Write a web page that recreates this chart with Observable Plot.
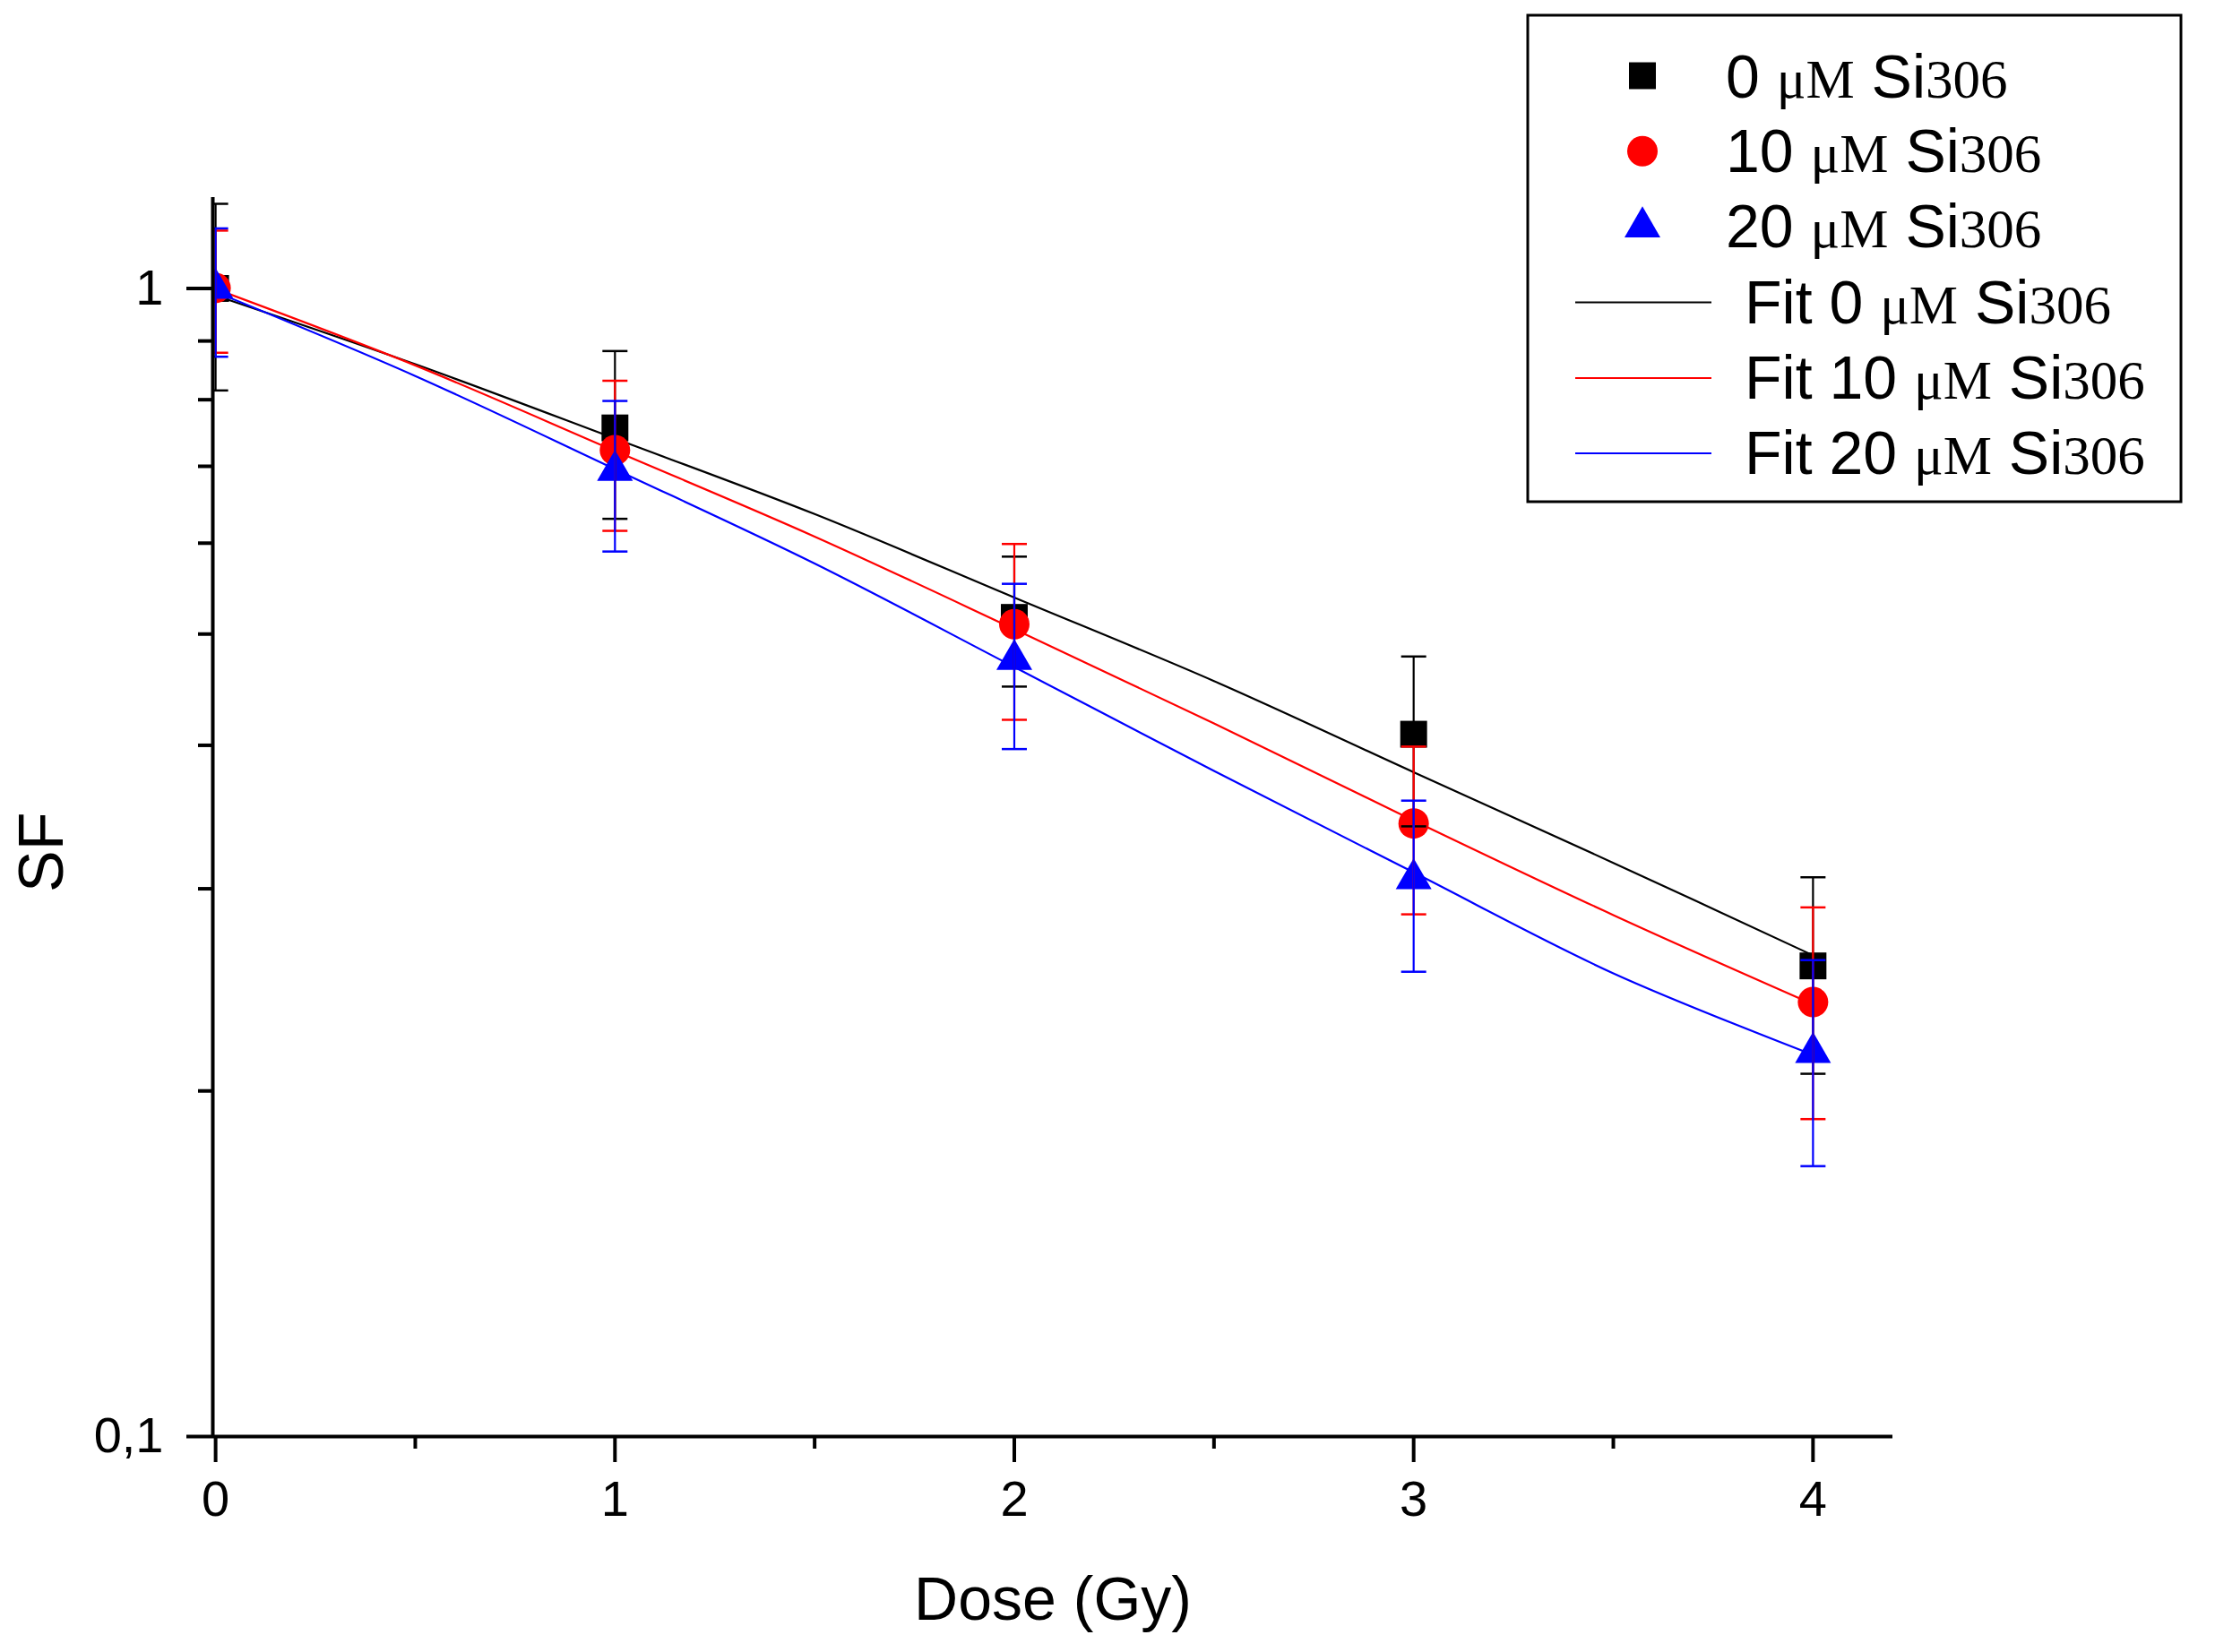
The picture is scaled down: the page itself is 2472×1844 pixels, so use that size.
<!DOCTYPE html>
<html>
<head>
<meta charset="utf-8">
<script src="https://cdn.jsdelivr.net/npm/d3@7"></script>
<script src="https://cdn.jsdelivr.net/npm/@observablehq/plot@0.6"></script>
<style>
  html, body { margin: 0; padding: 0; background: #ffffff; }
  #chart { width: 2472px; height: 1844px; }
</style>
</head>
<body>
<div id="chart"></div>
<script>
// ---------- data ----------
const doses = [0, 1, 2, 3, 4];
const seriesNames = ["0 μM Si306", "10 μM Si306", "20 μM Si306"];
const fitNames = ["Fit 0 μM Si306", "Fit 10 μM Si306", "Fit 20 μM Si306"];
const seriesColors = ["#000000", "#ff0000", "#0000ff"];
const seriesSymbols = ["square", "circle", "triangle"];

const sf0  = [1.000, 0.756, 0.517, 0.409, 0.257];
const sf10 = [1.001, 0.723, 0.510, 0.342, 0.239];
const sf20 = [1.000, 0.694, 0.475, 0.306, 0.216];
const err0  = [0.185, 0.126, 0.067, 0.069, 0.050];
const err10 = [0.122, 0.108, 0.089, 0.057, 0.050];
const err20 = [0.128, 0.104, 0.078, 0.052, 0.044];

const fitDoses = [0, 0.5, 1, 1.5, 2, 2.5, 3, 3.5, 4];
const fit0  = [0.986, 0.859, 0.740, 0.636, 0.538, 0.455, 0.379, 0.316, 0.2625];
const fit10 = [0.999, 0.857, 0.722, 0.608, 0.505, 0.418, 0.344, 0.2846, 0.238];
const fit20 = [0.993, 0.839, 0.696, 0.576, 0.468, 0.380, 0.310, 0.2532, 0.215];

const xTicks = [0, 1, 2, 3, 4];
const xMinorTicks = [0.5, 1.5, 2.5, 3.5];
const yTicks = [0.1, 1];
const yTickLabels = ["0,1", "1"];
const yMinorTicks = [0.2, 0.3, 0.4, 0.5, 0.6, 0.7, 0.8, 0.9];

const xLabel = "Dose (Gy)";
const yLabel = "SF";

// ---------- tables ----------
const sfAll = [sf0, sf10, sf20];
const errAll = [err0, err10, err20];
const fitAll = [fit0, fit10, fit20];

const points = seriesNames.map((s, i) =>
  doses.map((d, j) => ({
    series: s, dose: d, sf: sfAll[i][j],
    lo: sfAll[i][j] - errAll[i][j], hi: sfAll[i][j] + errAll[i][j]
  }))
);
const fits = fitNames.map((s, i) =>
  fitDoses.map((d, j) => ({series: s, dose: d, sf: fitAll[i][j]}))
);

const symbolR = {square: 16.9, circle: 17, triangle: 14.85};
const capSymbol = {
  draw(ctx) { ctx.moveTo(-14, 0); ctx.lineTo(14, 0); }
};

const SANS = "'Liberation Sans', Arial, Helvetica, sans-serif";
const SERIF = "'Liberation Serif', 'Times New Roman', serif";

const marks = [];
// fit curves
fits.forEach((rows, i) => {
  marks.push(Plot.line(rows, {
    x: "dose", y: "sf", stroke: seriesColors[i], strokeWidth: 2.2, curve: "catmull-rom"
  }));
});
// symbols
points.forEach((rows, i) => {
  marks.push(Plot.dot(rows, {
    x: "dose", y: "sf", symbol: seriesSymbols[i], r: symbolR[seriesSymbols[i]],
    fill: seriesColors[i], stroke: "none", clip: true
  }));
});
// error bars
points.forEach((rows, i) => {
  marks.push(Plot.ruleX(rows, {
    x: "dose", y1: "lo", y2: "hi", stroke: seriesColors[i], strokeWidth: 2.2, clip: true
  }));
  marks.push(Plot.dot(rows, {
    x: "dose", y: "hi", symbol: capSymbol, r: 1, fill: "none",
    stroke: seriesColors[i], strokeWidth: 2.5, clip: true
  }));
  marks.push(Plot.dot(rows, {
    x: "dose", y: "lo", symbol: capSymbol, r: 1, fill: "none",
    stroke: seriesColors[i], strokeWidth: 2.5, clip: true
  }));
});
// axes
marks.push(Plot.ruleY([0.1], {stroke: "black", strokeWidth: 4}));
marks.push(Plot.ruleX([-0.007], {stroke: "black", strokeWidth: 4}));
marks.push(Plot.axisX({
  ticks: xTicks, tickSize: 29, tickPadding: 20, strokeWidth: 4,
  fontSize: 56, tickFormat: d => String(d), label: null
}));
marks.push(Plot.axisX({
  ticks: xMinorTicks, tickSize: 14, strokeWidth: 4, text: null, label: null
}));
marks.push(Plot.axisY({
  ticks: yTicks, tickSize: 29, tickPadding: 26, strokeWidth: 4,
  fontSize: 56, tickFormat: d => yTickLabels[yTicks.indexOf(d)], label: null
}));
marks.push(Plot.axisY({
  ticks: yMinorTicks, tickSize: 16, strokeWidth: 4, text: null, label: null
}));
// axis titles
marks.push(Plot.text([xLabel], {
  text: d => d, frameAnchor: "bottom", lineAnchor: "top", dy: 156,
  fontSize: 68, fill: "black"
}));
marks.push(Plot.text([yLabel], {
  text: d => d, frameAnchor: "left", rotate: -90, lineAnchor: "middle",
  dx: -190, dy: 84, fontSize: 70, fill: "black"
}));

const svg = Plot.plot({
  width: 2472,
  height: 1844,
  marginLeft: 237,
  marginRight: 360,
  marginTop: 220,
  marginBottom: 241,
  style: {fontFamily: SANS, background: "white", color: "black", overflow: "visible"},
  x: {domain: [-0.007, 4.2], axis: null},
  y: {type: "log", domain: [0.1, 1.2], axis: null},
  marks
});

document.getElementById("chart").appendChild(svg);

// ---------- legend ----------
const sel = d3.select(svg);
const lg = sel.append("g").attr("class", "legend").attr("text-anchor", "start");
lg.append("rect")
  .attr("x", 1705).attr("y", 17).attr("width", 729).attr("height", 543)
  .attr("fill", "white").attr("stroke", "black").attr("stroke-width", 3);

const d3Sym = {square: d3.symbolSquare, circle: d3.symbolCircle, triangle: d3.symbolTriangle};

function labelText(g, x, y, label) {
  // label like "Fit 10 μM Si306": sans except "μM" and "306" in serif
  const t = g.append("text").attr("x", x).attr("y", y).attr("fill", "black")
    .attr("text-anchor", "start");
  const m = label.match(/^(.*?)(μM)( Si)(306)$/);
  t.append("tspan").attr("font-family", SANS).attr("font-size", 68).text(m[1]);
  t.append("tspan").attr("font-family", SERIF).attr("font-size", 61).text(m[2]);
  t.append("tspan").attr("font-family", SANS).attr("font-size", 68).text(m[3]);
  t.append("tspan").attr("font-family", SERIF).attr("font-size", 61).text(m[4]);
}

const symRowY = [84.5, 168.8, 253.4];
const symTextY = [108.6, 191.8, 276];
seriesNames.forEach((name, i) => {
  const r = symbolR[seriesSymbols[i]];
  lg.append("path")
    .attr("transform", `translate(1833,${symRowY[i]})`)
    .attr("d", d3.symbol(d3Sym[seriesSymbols[i]], Math.PI * r * r)())
    .attr("fill", seriesColors[i]);
  labelText(lg, 1926, symTextY[i], name);
});

const lineRowY = [337.5, 422, 506];
const lineTextY = [360.6, 445, 529];
fitNames.forEach((name, i) => {
  lg.append("line")
    .attr("x1", 1758).attr("x2", 1910)
    .attr("y1", lineRowY[i]).attr("y2", lineRowY[i])
    .attr("stroke", seriesColors[i]).attr("stroke-width", 2.2);
  labelText(lg, 1947, lineTextY[i], name);
});
</script>
</body>
</html>
